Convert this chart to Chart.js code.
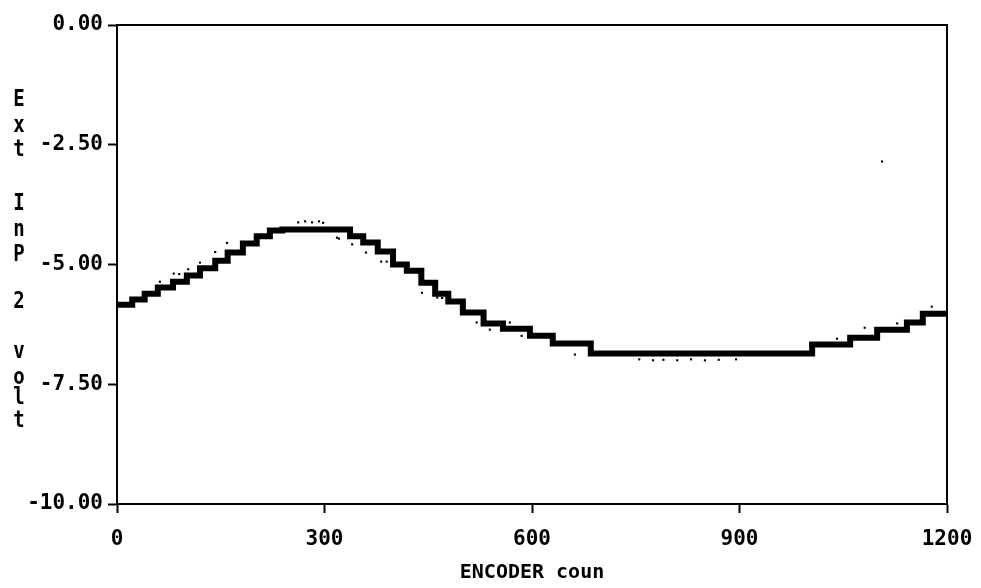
<!DOCTYPE html>
<html>
<head>
<meta charset="utf-8">
<script src="https://cdn.jsdelivr.net/npm/chart.js@4.4.1/dist/chart.umd.min.js"></script>
<style>
  html, body { margin: 0; padding: 0; background: #fff; }
  canvas { display: block; }
</style>
</head>
<body>
<canvas id="encoderChart" width="981" height="588"></canvas>
<script>
// step starts of the recorded trace (encoder count, volts)
const encoderCounts = [0, 22, 40, 59, 81, 101, 120, 142, 160, 182, 202, 221, 239, 337, 356, 377, 399, 419, 440, 460, 479, 500, 530, 558, 597, 630, 685, 1005, 1060, 1099, 1142, 1165, 1200];
const extInp2Volts = [-5.84, -5.73, -5.61, -5.48, -5.36, -5.23, -5.08, -4.92, -4.75, -4.56, -4.41, -4.29, -4.27, -4.41, -4.54, -4.73, -5.00, -5.13, -5.38, -5.61, -5.77, -6.00, -6.23, -6.34, -6.49, -6.65, -6.86, -6.67, -6.53, -6.36, -6.21, -6.03, -6.03];

// stray samples off the main band
const strayCounts = [0, 62, 82, 90, 103, 120, 142, 159, 262, 272, 282, 292, 298, 318, 321, 340, 360, 382, 390, 441, 463, 470, 520, 528, 535, 539, 568, 585, 595, 662, 755, 775, 790, 810, 830, 850, 870, 895, 1041, 1081, 1106, 1128, 1178];
const strayVolts = [-6.02, -5.36, -5.19, -5.2, -5.1, -4.96, -4.74, -4.55, -4.12, -4.1, -4.12, -4.1, -4.13, -4.44, -4.46, -4.58, -4.75, -4.94, -4.94, -5.59, -5.69, -5.7, -6.21, -6.2, -6.22, -6.36, -6.21, -6.49, -6.48, -6.88, -6.98, -7.0, -6.99, -7.0, -6.98, -7.0, -6.99, -6.98, -6.55, -6.32, -2.85, -6.23, -5.88];

const xTicks = [0, 300, 600, 900, 1200];
const yTicks = [0, -2.5, -5, -7.5, -10];

const yTitleLetters = ["E", "x", "t", "I", "n", "P", "2", "v", "o", "l", "t"];

const monoFont = "'DejaVu Sans Mono', monospace";

const frameAndTitle = {
    id: "frameAndTitle",
    afterDraw: (chart) => {
        const ctx = chart.ctx;
        const a = chart.chartArea;
        ctx.save();
        ctx.strokeStyle = "#000";
        ctx.lineWidth = 2;
        ctx.strokeRect(a.left, a.top, a.right - a.left, a.bottom - a.top);

        // stacked y title, one letter per line
        const rows = [100, 126, 150, 204, 230, 255, 302, 352, 378, 398, 421];
        ctx.fillStyle = "#000";
        ctx.font = "bold 19px " + monoFont;
        ctx.textAlign = "center";
        ctx.textBaseline = "middle";
        yTitleLetters.forEach((ch, i) => {
            ctx.save();
            ctx.translate(19, rows[i]);
            ctx.scale(1, 1.25);
            ctx.fillText(ch, 0, 0);
            ctx.restore();
        });
        ctx.restore();
    }
};

new Chart(document.getElementById("encoderChart"), {
    type: "line",
    data: {
        datasets: [{
            label: "Ext Inp 2",
            data: encoderCounts.map((c, i) => ({ x: c, y: extInp2Volts[i] })),
            borderColor: "#000",
            borderWidth: 6,
            stepped: true,
            pointRadius: 0,
            fill: false
        }, {
            label: "stray",
            type: "scatter",
            data: strayCounts.map((c, i) => ({ x: c, y: strayVolts[i] })),
            pointStyle: "rect",
            pointRadius: 1.5,
            backgroundColor: "#000",
            borderColor: "#000",
            borderWidth: 0,
            showLine: false
        }]
    },
    options: {
        responsive: false,
        animation: false,
        layout: {
            padding: { left: 0, top: 25, right: 34, bottom: 0 }
        },
        plugins: {
            legend: { display: false },
            tooltip: { enabled: false }
        },
        scales: {
            x: {
                type: "linear",
                min: 0,
                max: 1200,
                afterBuildTicks: (scale) => {
                    scale.ticks = xTicks.map(v => ({ value: v }));
                },
                afterFit: (scale) => {
                    scale.height = 84;
                    scale.paddingLeft = 0;
                    scale.paddingRight = 0;
                },
                grid: {
                    drawOnChartArea: false,
                    tickColor: "#000",
                    tickWidth: 2,
                    tickLength: 9
                },
                border: { color: "#000", width: 2 },
                ticks: {
                    color: "#000",
                    padding: 14,
                    maxRotation: 0,
                    callback: (v) => String(v),
                    font: { family: monoFont, weight: "bold", size: 21 }
                },
                title: {
                    display: true,
                    text: "ENCODER coun",
                    color: "#000",
                    padding: { top: 0, bottom: 3 },
                    font: { family: monoFont, weight: "bold", size: 20 }
                }
            },
            y: {
                type: "linear",
                min: -10,
                max: 0,
                afterBuildTicks: (scale) => {
                    scale.ticks = yTicks.map(v => ({ value: v }));
                },
                afterFit: (scale) => { scale.width = 117; },
                grid: {
                    drawOnChartArea: false,
                    tickColor: "#000",
                    tickWidth: 2,
                    tickLength: 9
                },
                border: { color: "#000", width: 2 },
                ticks: {
                    color: "#000",
                    padding: 5,
                    callback: (v) => Number(v).toFixed(2),
                    font: { family: monoFont, weight: "bold", size: 21 }
                }
            }
        }
    },
    plugins: [frameAndTitle]
});
</script>
</body>
</html>
